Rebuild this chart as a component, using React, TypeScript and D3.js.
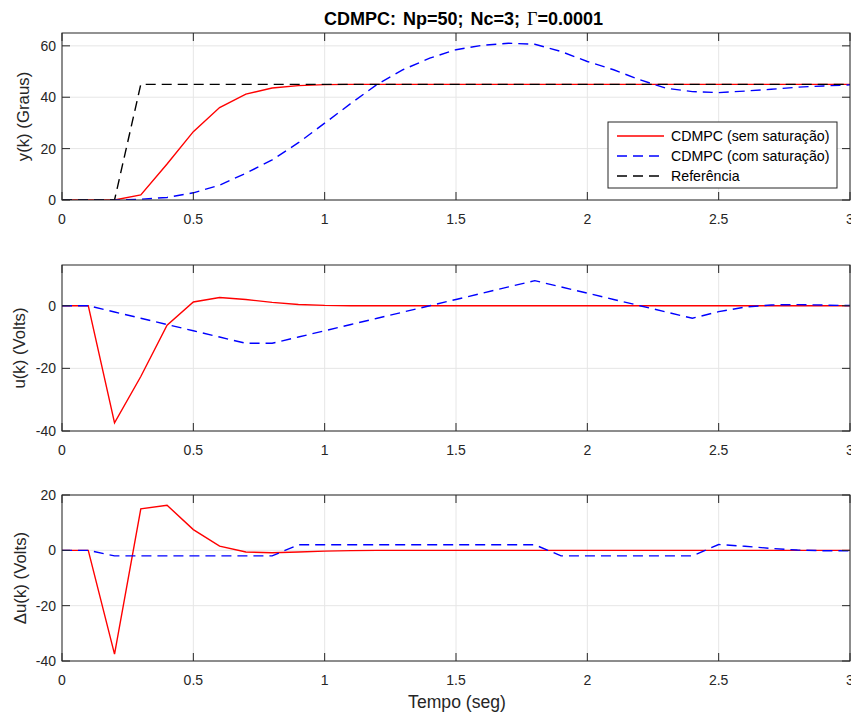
import React from 'react';
import * as d3 from 'd3';

// tempo (seg), passo de 0.1
const tempo = [0, 0.1, 0.2, 0.3, 0.4, 0.5, 0.6, 0.7, 0.8, 0.9, 1.0, 1.1, 1.2, 1.3, 1.4, 1.5, 1.6, 1.7, 1.8, 1.9, 2.0,
  2.1, 2.2, 2.3, 2.4, 2.5, 2.6, 2.7, 2.8, 2.9, 3.0];

// saida y(k)
const yRef = [0, 0, 0, 45, 45, 45, 45, 45, 45, 45, 45, 45, 45, 45, 45, 45, 45, 45, 45, 45, 45,
  45, 45, 45, 45, 45, 45, 45, 45, 45, 45];
const ySemSat = [0, 0, 0, 2, 14, 26.6, 36, 41.2, 43.6, 44.5, 44.9, 45, 45, 45, 45, 45, 45, 45, 45, 45, 45,
  45, 45, 45, 45, 45, 45, 45, 45, 45, 45];
const yComSat = [0, 0, 0, 0.3, 1, 2.8, 5.8, 10.4, 15.6, 22.3, 29.9, 37.6, 45, 50.8, 55.2, 58.5, 60.2, 61, 60.6, 57.8, 53.9,
  50.7, 46.8, 43.5, 42.2, 41.8, 42.4, 43.1, 43.9, 44.4, 44.8];

// sinal de controle u(k)
const uSemSat = [0, 0, -37.4, -22.6, -6.2, 1.2, 2.6, 2.0, 1.05, 0.4, 0.1, 0, 0, 0, 0, 0, 0, 0, 0, 0, 0,
  0, 0, 0, 0, 0, 0, 0, 0, 0, 0];
const uComSat = [0, 0, -2, -4, -6, -8, -10, -12, -12, -10, -8, -6, -4, -2, 0, 2, 4, 6, 8, 6, 4,
  2, 0, -2, -4, -1.9, -0.45, 0.25, 0.35, 0.2, 0.05];

// incremento du(k)
const duSemSat = [0, 0, -37.5, 15, 16.3, 7.5, 1.5, -0.6, -0.9, -0.6, -0.3, -0.1, 0, 0, 0, 0, 0, 0, 0, 0, 0,
  0, 0, 0, 0, 0, 0, 0, 0, 0, 0];
const duComSat = [0, 0, -2, -2, -2, -2, -2, -2, -2, 2, 2, 2, 2, 2, 2, 2, 2, 2, 2, -2, -2,
  -2, -2, -2, -2, 2.1, 1.45, 0.7, 0.1, -0.15, -0.15];

const xTicks = [0, 0.5, 1, 1.5, 2, 2.5, 3];
const yTicks1 = [0, 20, 40, 60];
const yTicks2 = [-40, -20, 0];
const yTicks3 = [-40, -20, 0, 20];

const legendLabels = ['CDMPC (sem saturação)', 'CDMPC (com saturação)', 'Referência'];

const W = 851;
const H = 712;
const left = 62;
const right = 850;
const axisColor = '#262626';
const gridColor = '#e6e6e6';
const font = '"Liberation Sans", Arial, Helvetica, sans-serif';
const dash = '10,6';

const x = d3.scaleLinear().domain([0, 3]).range([left, right]);

type Serie = { values: number[]; color: string; dash?: string };

type PanelProps = {
  id: string;
  top: number;
  bottom: number;
  domain: [number, number];
  ticks: number[];
  label: React.ReactNode;
  labelX: number;
  series: Serie[];
  legend?: boolean;
};

const Panel = ({ id, top, bottom, domain, ticks, label, labelX, series, legend }: PanelProps) => {
  const y = d3.scaleLinear().domain(domain).range([bottom, top]);
  const line = d3.line<number>().x((_, i) => x(tempo[i])).y(d => y(d));
  const tickLen = 8;
  const mid = (top + bottom) / 2;

  return (
    <g>
      <defs>
        <clipPath id={`clip-${id}`}>
          <rect x={left} y={top} width={right - left} height={bottom - top} />
        </clipPath>
      </defs>
      <rect x={left} y={top} width={right - left} height={bottom - top} fill="white" />
      {/* grade */}
      {xTicks.map(t => (
        <line key={`gx${t}`} x1={x(t)} x2={x(t)} y1={top} y2={bottom} stroke={gridColor} strokeWidth={1} />
      ))}
      {ticks.map(t => (
        <line key={`gy${t}`} x1={left} x2={right} y1={y(t)} y2={y(t)} stroke={gridColor} strokeWidth={1} />
      ))}
      {/* curvas */}
      <g clipPath={`url(#clip-${id})`}>
        {series.map((s, i) => (
          <path key={i} d={line(s.values) || ''} fill="none" stroke={s.color} strokeWidth={1.4}
            strokeDasharray={s.dash} />
        ))}
      </g>
      {/* caixa e marcas */}
      <rect x={left} y={top} width={right - left} height={bottom - top} fill="none" stroke={axisColor} strokeWidth={1} />
      {xTicks.map(t => (
        <g key={`tx${t}`}>
          <line x1={x(t)} x2={x(t)} y1={bottom} y2={bottom - tickLen} stroke={axisColor} />
          <line x1={x(t)} x2={x(t)} y1={top} y2={top + tickLen} stroke={axisColor} />
          <text x={x(t)} y={bottom + 19} textAnchor="middle" dominantBaseline="central" fontSize={14}
            fill={axisColor} fontFamily={font}>{t}</text>
        </g>
      ))}
      {ticks.map(t => (
        <g key={`ty${t}`}>
          <line x1={left} x2={left + tickLen} y1={y(t)} y2={y(t)} stroke={axisColor} />
          <line x1={right} x2={right - tickLen} y1={y(t)} y2={y(t)} stroke={axisColor} />
          <text x={left - 6} y={y(t)} textAnchor="end" dominantBaseline="central" fontSize={14}
            fill={axisColor} fontFamily={font}>{t}</text>
        </g>
      ))}
      <text transform={`translate(${labelX},${mid}) rotate(-90)`} textAnchor="middle" dominantBaseline="central"
        fontSize={16.8} fill={axisColor} fontFamily={font}>{label}</text>
      {legend && (
        <g>
          <rect x={608} y={122} width={229} height={66} fill="white" stroke={axisColor} strokeWidth={1} />
          {series.map((s, i) => (
            <g key={`lg${i}`}>
              <line x1={617} x2={664} y1={136 + i * 20} y2={136 + i * 20} stroke={s.color} strokeWidth={1.4}
                strokeDasharray={s.dash} />
              <text x={671} y={136 + i * 20} dominantBaseline="central" fontSize={14.2} fill="#000"
                fontFamily={font}>{legendLabels[i]}</text>
            </g>
          ))}
        </g>
      )}
    </g>
  );
};

export default function App() {
  return (
    <svg width={W} height={H} style={{ position: 'absolute', left: 0, top: 0, background: 'white' }}>
      <rect x={0} y={0} width={W} height={H} fill="white" />
      <text x={463.5} y={19} textAnchor="middle" dominantBaseline="central" fontSize={18}
        fontWeight="bold" fill="#000" fontFamily={font} wordSpacing={2}>
        CDMPC: Np=50; Nc=3; <tspan fontFamily='"Liberation Serif", "Times New Roman", serif' fontWeight="normal">Γ</tspan>=0.0001
      </text>
      <Panel id="y" top={33} bottom={200} domain={[0, 65]} ticks={yTicks1} label="y(k) (Graus)" labelX={23}
        legend
        series={[
          { values: ySemSat, color: '#ff0000' },
          { values: yComSat, color: '#0000ff', dash },
          { values: yRef, color: '#000000', dash },
        ]} />
      <Panel id="u" top={265} bottom={431} domain={[-40, 13]} ticks={yTicks2} label="u(k) (Volts)" labelX={19.5}
        series={[
          { values: uSemSat, color: '#ff0000' },
          { values: uComSat, color: '#0000ff', dash },
        ]} />
      <Panel id="du" top={495} bottom={661} domain={[-40, 20]} ticks={yTicks3} label="Δu(k) (Volts)" labelX={20.5}
        series={[
          { values: duSemSat, color: '#ff0000' },
          { values: duComSat, color: '#0000ff', dash },
        ]} />
      <text x={(left + right) / 2 + 1} y={702} textAnchor="middle" dominantBaseline="central" fontSize={17.6}
        fill={axisColor} fontFamily={font}>Tempo (seg)</text>
    </svg>
  );
}
